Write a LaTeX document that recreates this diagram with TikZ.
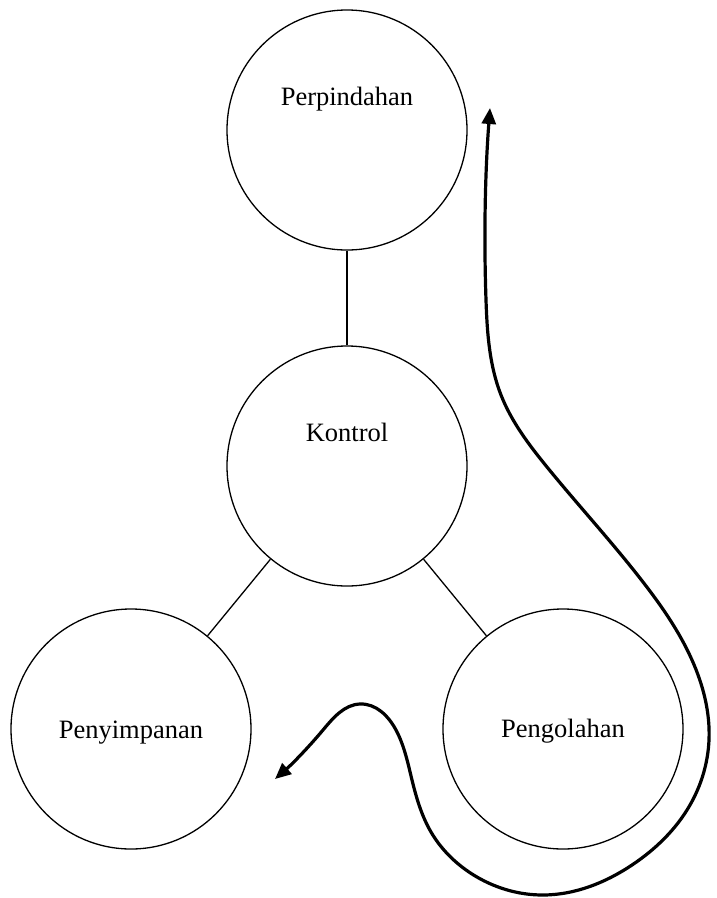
\documentclass[tikz,border=0pt]{standalone}
\usepackage{fontspec}
\setmainfont{Liberation Serif}
\usetikzlibrary{arrows.meta,hobby}
\begin{document}
\begin{tikzpicture}[x=1pt,y=-1pt,
  unit/.style={draw=black,line width=1.3pt,circle,minimum size=240pt,inner sep=0pt},
  caption/.style={anchor=base,inner sep=0pt,font=\fontsize{26.5}{30}\selectfont},
  link/.style={draw=black,line width=1.3pt},
  flow/.style={line width=3.2pt,line cap=round,line join=round,
    {Triangle[length=16pt,width=14pt]}-{Triangle[length=16pt,width=14pt]}}]
\useasboundingbox (0,0) rectangle (716,898);

% four process circles
\node[unit] (perpindahan) at (347,130) {};
\node[unit] (kontrol)     at (347,466) {};
\node[unit] (penyimpanan) at (131,729) {};
\node[unit] (pengolahan)  at (563,729) {};

% their captions
\node[caption] (tperpindahan) at (347,105) {Perpindahan};
\node[caption] (tkontrol)     at (347,441) {Kontrol};
\node[caption] (tpenyimpanan) at (131,738) {Penyimpanan};
\node[caption] (tpengolahan)  at (563,737) {Pengolahan};

% links from the control circle
\draw[link] (perpindahan) -- (kontrol);
\draw[link] (kontrol) -- (penyimpanan);
\draw[link] (kontrol) -- (pengolahan);

% flow curve with arrowheads at both ends
\coordinate (flowstart) at (275,779);
\coordinate (flowend) at (490,108);
\draw[flow,use Hobby shortcut] (flowstart) .. (323,730) .. (360,704)
  .. (396,730) .. (412,780) .. (431,832) .. (472,874) .. (543,895)
  .. (632,865) .. (690,805) .. (709,740) .. (692,660) .. (643,582)
  .. (547,467) .. (501,395) .. (486,300) .. (flowend);
\end{tikzpicture}
\end{document}
